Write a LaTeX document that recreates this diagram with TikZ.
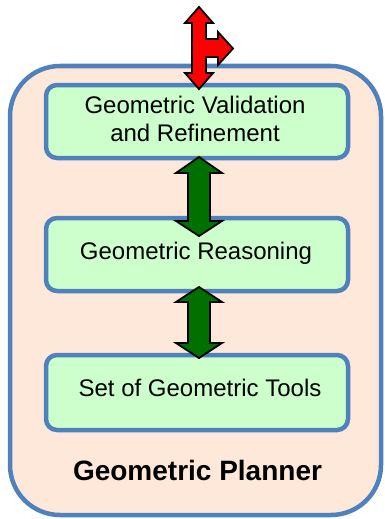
\documentclass[tikz,border=0pt]{standalone}
\usepackage{fontspec}
\setmainfont{Liberation Sans}
\definecolor{frameblue}{RGB}{79,129,189}
\definecolor{peach}{RGB}{253,232,218}
\definecolor{mint}{RGB}{204,255,204}
\definecolor{darkgreen}{RGB}{0,112,0}
\begin{document}
\begin{tikzpicture}[x=1pt,y=-1pt,
  outerbox/.style={draw=frameblue,line width=4.5pt,fill=peach,rounded corners=50pt},
  layerbox/.style={draw=frameblue,line width=4.5pt,fill=mint,rounded corners=11pt},
  layertext/.style={font=\fontsize{24}{28}\selectfont,align=center,inner sep=0pt},
  titletext/.style={font=\fontsize{28}{32}\selectfont\bfseries,inner sep=0pt},
  greenarrow/.style={draw=black,line width=1.8pt,fill=darkgreen,line join=miter},
  redarrow/.style={draw=black,line width=1.8pt,fill=red,line join=miter}]
\useasboundingbox (0,0) rectangle (384,519);
% outer planner frame
\draw[outerbox] (10,66) rectangle (381,515);
% layer boxes
\draw[layerbox] (46,85) rectangle (348,158);
\draw[layerbox] (46,218) rectangle (348,291);
\draw[layerbox] (46,355) rectangle (348,430);
\node[layertext] (valid) at (195,119) {Geometric Validation\\and Refinement};
\node[layertext] (reason) at (196,253) {Geometric Reasoning};
\node[layertext] (tools) at (200,388) {Set of Geometric Tools};
\node[titletext] (planner) at (197.5,470) {Geometric Planner};
% green double arrows
\draw[greenarrow] (199,157) -- (222,173) -- (210,173) -- (210,221) -- (222,221) -- (199,236)
  -- (176,221) -- (188,221) -- (188,173) -- (176,173) -- cycle;
\draw[greenarrow] (199,287) -- (222,302) -- (210,302) -- (210,343) -- (222,343) -- (199,358)
  -- (176,343) -- (188,343) -- (188,302) -- (176,302) -- cycle;
% red three-way arrow
\draw[redarrow] (199,7) -- (213,23) -- (206,23) -- (206,39) -- (218,39) -- (218,32) -- (233,48.5)
  -- (218,65) -- (218,57) -- (206,57) -- (206,73) -- (213,73) -- (199,89) -- (185,73)
  -- (192,73) -- (192,23) -- (185,23) -- cycle;
\end{tikzpicture}
\end{document}
